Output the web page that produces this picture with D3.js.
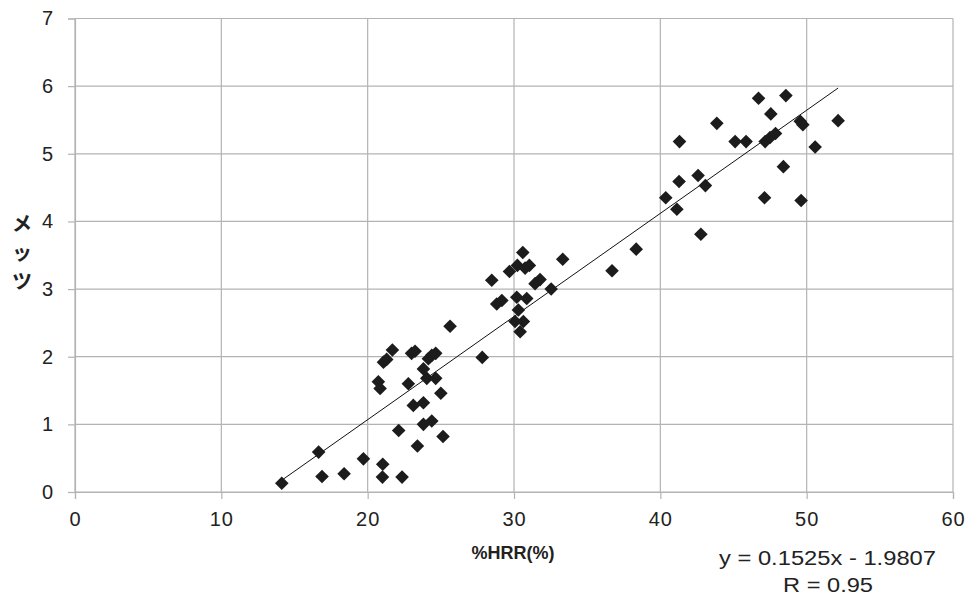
<!DOCTYPE html>
<html><head><meta charset="utf-8">
<script src="https://cdn.jsdelivr.net/npm/d3@7"></script>
<style>body{margin:0;background:#fff}svg{display:block}</style>
</head><body>
<svg id="c" width="968" height="601"></svg>
<script>
const xTicks = [0,10,20,30,40,50,60];
const yTicks = [0,1,2,3,4,5,6,7];
const xTitle = "%HRR(%)";
const yTitle = "メッツ";
const equation = "y = 0.1525x - 1.9807";
const rText = "R = 0.95";
const slope = 0.1525, intercept = -1.9807;
const hrr = [14.13,16.65,16.88,18.39,19.71,21.03,21.01,22.35,23.40,22.12,25.15,23.81,24.38,
 23.12,23.81,25.0,20.73,20.85,22.78,24.04,24.65,23.81,21.08,21.30,21.69,23.0,23.24,24.15,24.38,24.65,27.83,25.63,
 30.6,33.33,38.35,36.70,28.48,29.69,30.23,30.76,31.05,31.44,31.78,32.54,28.82,29.17,30.19,30.87,30.3,30.07,30.64,30.42,
 46.71,48.58,47.55,43.86,49.56,49.74,52.15,41.31,45.11,45.86,47.16,47.5,47.87,50.58,48.41,42.58,41.28,43.08,40.37,41.13,47.12,49.62,42.77];
const mets = [0.13,0.59,0.23,0.27,0.49,0.41,0.22,0.22,0.68,0.91,0.82,1.00,1.05,
 1.28,1.32,1.46,1.63,1.53,1.60,1.68,1.68,1.82,1.92,1.96,2.10,2.05,2.08,1.97,2.02,2.05,1.99,2.45,
 3.54,3.44,3.59,3.27,3.13,3.26,3.35,3.31,3.35,3.08,3.14,3.0,2.78,2.83,2.88,2.86,2.69,2.52,2.52,2.37,
 5.82,5.86,5.59,5.45,5.48,5.43,5.49,5.18,5.18,5.18,5.18,5.24,5.30,5.10,4.81,4.68,4.59,4.53,4.35,4.18,4.35,4.31,3.81];

const svg = d3.select("#c");
const x = d3.scaleLinear().domain([0,60]).range([75,953]);
const y = d3.scaleLinear().domain([0,7]).range([492,18.5]);
const grid = "#b3b3b3";
const font = "'Liberation Sans', Arial, sans-serif";

// gridlines
svg.append("g").selectAll("line").data(yTicks).join("line")
  .attr("x1",x(0)).attr("x2",x(60)).attr("y1",d=>y(d)).attr("y2",d=>y(d))
  .attr("stroke",grid).attr("stroke-width",1.2);
svg.append("g").selectAll("line").data(xTicks).join("line")
  .attr("y1",y(0)).attr("y2",y(7)).attr("x1",d=>x(d)).attr("x2",d=>x(d))
  .attr("stroke",grid).attr("stroke-width",1.2);

// axes
const ya = svg.append("g").attr("transform",`translate(${x(0)},0)`)
  .call(d3.axisLeft(y).tickValues(yTicks).tickSize(7).tickPadding(15).tickFormat(d3.format("d")));
const xa = svg.append("g").attr("transform",`translate(0,${y(0)})`)
  .call(d3.axisBottom(x).tickValues(xTicks).tickSize(7).tickPadding(13).tickFormat(d3.format("d")));
[ya,xa].forEach(a=>{
  a.select(".domain").attr("stroke",grid).attr("stroke-width",1.2);
  a.selectAll(".tick line").attr("stroke",grid).attr("stroke-width",1.2);
  a.selectAll(".tick text").attr("fill","#222").style("font-family",font).style("font-size","20px");
});
xa.selectAll(".tick text").style("letter-spacing","1px");

// trend line
const xmin = d3.min(hrr), xmax = d3.max(hrr);
svg.append("line")
  .attr("x1",x(xmin)).attr("y1",y(slope*xmin+intercept))
  .attr("x2",x(xmax)).attr("y2",y(slope*xmax+intercept))
  .attr("stroke","#111").attr("stroke-width",1);

// points
const pts = hrr.map((v,i)=>[v,mets[i]]);
svg.append("g").selectAll("path").data(pts).join("path")
  .attr("d", d=>{const cx=x(d[0]), cy=y(d[1]), r=6.8; return `M${cx},${cy-r}L${cx+r},${cy}L${cx},${cy+r}L${cx-r},${cy}Z`;})
  .attr("fill","#1c1c1c");

// titles
svg.append("text").attr("x",513).attr("y",559).attr("text-anchor","middle")
  .style("font-family",font).style("font-size","18px").style("font-weight","bold").attr("fill","#222")
  .text(xTitle);
const yt = svg.append("text").style("font-family","'Noto Sans CJK JP', sans-serif")
  .style("font-size","20px").style("font-weight","bold").attr("fill","#222").attr("text-anchor","middle");
const ys = [231, 260, 289];
yTitle.split("").forEach((ch,i)=>{
  yt.append("tspan").attr("x",22).attr("y",ys[i]).text(ch);
});

svg.append("text").attr("x",827.5).attr("y",565).attr("text-anchor","middle")
  .attr("textLength",217).attr("lengthAdjust","spacingAndGlyphs")
  .style("font-family",font).style("font-size","20.5px").attr("fill","#222").text(equation);
svg.append("text").attr("x",828).attr("y",592).attr("text-anchor","middle")
  .attr("textLength",90).attr("lengthAdjust","spacingAndGlyphs")
  .style("font-family",font).style("font-size","20.5px").attr("fill","#222").text(rText);
</script>
</body></html>
